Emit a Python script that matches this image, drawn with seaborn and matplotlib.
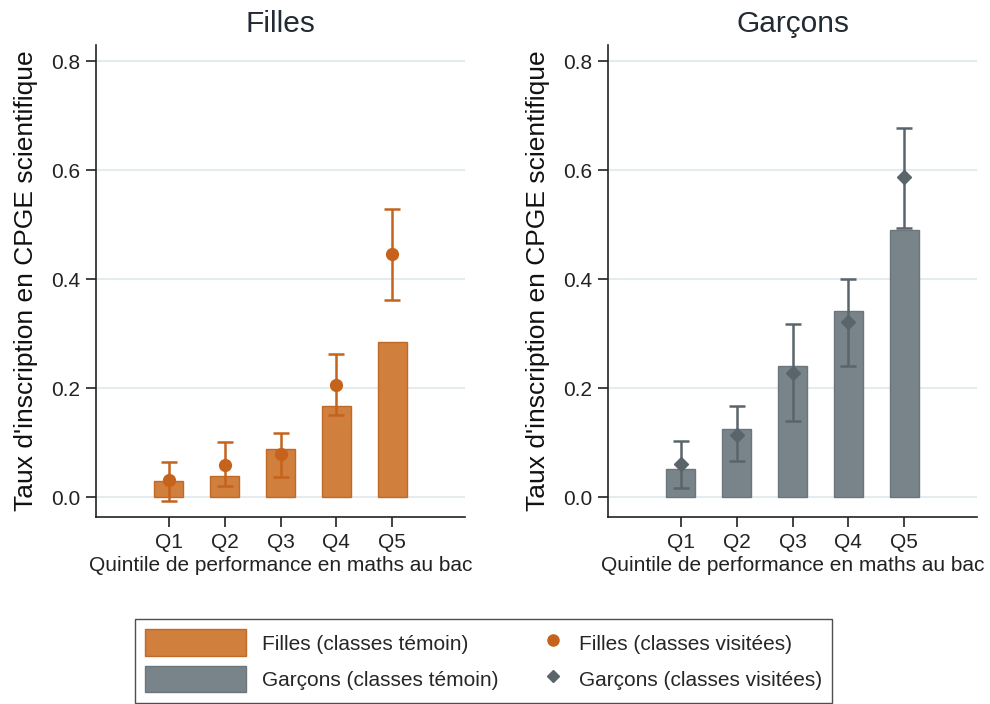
import numpy as np
import pandas as pd
import matplotlib.pyplot as plt
import seaborn as sns
from matplotlib.patches import Patch
from matplotlib.lines import Line2D
from matplotlib.legend_handler import HandlerLine2D

sns.set_style('white')
plt.rcParams['font.family'] = ['Liberation Sans', 'DejaVu Sans']

quintiles = ['Q1', 'Q2', 'Q3', 'Q4', 'Q5']
# classes témoin (bars)
filles_temoin = [0.030, 0.040, 0.088, 0.167, 0.285]
garcons_temoin = [0.052, 0.125, 0.241, 0.342, 0.491]
# classes visitées (points + CI)
filles_visit = [0.032, 0.059, 0.079, 0.206, 0.447]
filles_lo = [-0.006, 0.020, 0.037, 0.151, 0.362]
filles_hi = [0.065, 0.101, 0.118, 0.263, 0.530]
garcons_visit = [0.061, 0.114, 0.228, 0.322, 0.587]
garcons_lo = [0.017, 0.066, 0.140, 0.241, 0.495]
garcons_hi = [0.103, 0.167, 0.318, 0.400, 0.677]

orange_bar = '#D17F3C'
orange_edge = '#C06A28'
orange_pt = '#C5631D'
grey_bar = '#78838A'
grey_edge = '#6B767C'
grey_pt = '#59656A'

panels = [
    ('Filles', filles_temoin, filles_visit, filles_lo, filles_hi, orange_bar, orange_edge, orange_pt, 'o'),
    ('Garçons', garcons_temoin, garcons_visit, garcons_lo, garcons_hi, grey_bar, grey_edge, grey_pt, 'D'),
]

fig = plt.figure(figsize=(9.9, 7.04), dpi=100)
axes = [fig.add_axes([96/990, 1-517/704, 369/990, 472/704]),
        fig.add_axes([608/990, 1-517/704, 369/990, 472/704])]

for ax, (title, bars, pts, lo, hi, cb, ce, cp, mk) in zip(axes, panels):
    df = pd.DataFrame({'q': quintiles, 'v': bars})
    sns.barplot(data=df, x='q', y='v', color=cb, width=0.52, ax=ax,
                saturation=1, edgecolor=ce, linewidth=1.0)
    x = np.arange(len(quintiles))
    yerr = [np.array(pts) - np.array(lo), np.array(hi) - np.array(pts)]
    ax.errorbar(x, pts, yerr=yerr, fmt=mk, color=cp, ecolor=cp,
                markersize=8.5 if mk == 'o' else 7.5, elinewidth=1.8, capsize=5.5, capthick=1.8, zorder=5)
    ax.set_xlim(-1.3, 5.3)
    ax.set_ylim(-0.036, 0.83)
    ax.set_yticks([0, 0.2, 0.4, 0.6, 0.8])
    ax.set_yticklabels(['0.0', '0.2', '0.4', '0.6', '0.8'])
    ax.yaxis.grid(True, color='#E6ECEE', linewidth=1.5)
    ax.set_axisbelow(True)
    for s in ['top', 'right']:
        ax.spines[s].set_visible(False)
    for s in ['left', 'bottom']:
        ax.spines[s].set_color('#222222')
        ax.spines[s].set_linewidth(1.2)
    ax.tick_params(axis='both', direction='out', length=7.5, width=1.2, color='#222222',
                   labelsize=15, labelcolor='#222222', left=True, bottom=True)
    ax.tick_params(axis='y', pad=4)
    ax.tick_params(axis='x', pad=4)
    ax.set_title(title, fontsize=21.5, color='#222a33', pad=9)
    ax.set_ylabel("Taux d'inscription en CPGE scientifique", fontsize=19, color='#111111', labelpad=9)
    ax.set_xlabel('Quintile de performance en maths au bac', fontsize=15, color='#222222', labelpad=3)


class RightMarker(HandlerLine2D):
    # put the single marker at the right end of the handle box
    def get_xdata(self, legend, xdescent, ydescent, width, height, fontsize):
        p = -xdescent + width - 7.0
        return np.array([p - 0.5, p + 0.5]), np.array([p])


handles = [
    Patch(facecolor=orange_bar, edgecolor=orange_edge),
    Patch(facecolor=grey_bar, edgecolor=grey_edge),
    Line2D([], [], marker='o', color=orange_pt, linestyle='none', markersize=8),
    Line2D([], [], marker='D', color=grey_pt, linestyle='none', markersize=6.5),
]
labels = ['Filles (classes témoin)', 'Garçons (classes témoin)',
          'Filles (classes visitées)', 'Garçons (classes visitées)']
leg = fig.legend(handles, labels, ncol=2, loc='upper left', bbox_to_anchor=(135/990, 1-619/704),
                 borderaxespad=0, fontsize=15, frameon=True, fancybox=False, edgecolor='#222222',
                 handlelength=4.85, handleheight=1.6, handletextpad=0.77, columnspacing=-1.8,
                 borderpad=0.5, labelspacing=0.45,
                 handler_map={Line2D: RightMarker()})
leg.get_frame().set_linewidth(1.0)

fig.savefig('out.png', dpi=100, facecolor='white')
